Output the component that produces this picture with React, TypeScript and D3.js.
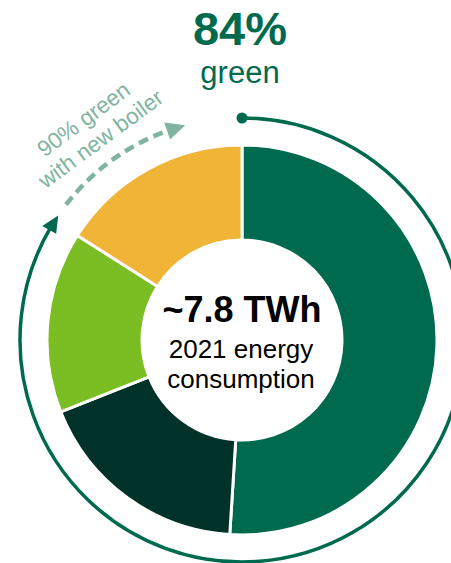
import React from "react";
import * as d3 from "d3";

// ---- Data ----
const categories = ["Segment A", "Segment B", "Segment C", "Segment D"];
const shares = [51, 18, 15, 16];
const sliceColors = ["#006A4E", "#00322A", "#7ABE23", "#F0B437"];
const greenShare = 84;
const targetShare = 90;
const headline = "84%";
const headlineSub = "green";
const centerTitle = "~7.8 TWh";
const centerLines = ["2021 energy", "consumption"];
const noteLines = ["90% green", "with new boiler"];

const W = 451;
const H = 563;
const cx = 242;
const cy = 340;
const R = 195;
const r0 = 100;
const ringR = 222;
const FONT = "'Liberation Sans', Arial, Helvetica, sans-serif";
const DARK = "#006A4E";
const TEAL = "#80B4A1";

const pt = (a: number, r: number): [number, number] => [cx + r * Math.sin(a), cy - r * Math.cos(a)];

function arcPath(a0: number, a1: number, r: number) {
  const p = d3.path();
  p.arc(cx, cy, r, a0 - Math.PI / 2, a1 - Math.PI / 2, false);
  return p.toString();
}

function arrowHead(tipA: number, len: number, halfW: number) {
  const baseA = tipA - len / ringR;
  const t = pt(tipA, ringR);
  const b1 = pt(baseA, ringR + halfW);
  const b2 = pt(baseA, ringR - halfW);
  return { d: `M${t[0]},${t[1]}L${b1[0]},${b1[1]}L${b2[0]},${b2[1]}Z`, baseA };
}

export default function App() {
  const pie = d3.pie<number>().sort(null).value((d) => d)(shares);
  const arc = d3.arc<d3.PieArcDatum<number>>().innerRadius(r0).outerRadius(R);

  const scale = d3.scaleLinear().domain([0, 100]).range([0, 2 * Math.PI]);
  const ringTip = scale(greenShare) + 0.03;
  const ringHead = arrowHead(ringTip, 17, 8);
  const dashStart = scale(greenShare) + 0.09;
  const dashTip = scale(targetShare) + 0.37;
  const dashHead = arrowHead(dashTip, 19, 9);
  const dot = pt(0, ringR);
  const noteA = -36.5;

  return (
    <svg width={W} height={H} style={{ position: "absolute", left: 0, top: 0, background: "#fff" }} fontFamily={FONT}>
      <g transform={`translate(${cx},${cy})`}>
        {pie.map((d, i) => (
          <path key={categories[i]} d={arc(d) as string} fill={sliceColors[i]} stroke="#fff" strokeWidth={3} />
        ))}
      </g>
      {/* ring */}
      <path d={arcPath(0, ringHead.baseA + 0.01, ringR)} fill="none" stroke={DARK} strokeWidth={3.5} />
      <path d={ringHead.d} fill={DARK} />
      <circle cx={dot[0]} cy={dot[1]} r={5.5} fill={DARK} />
      {/* dashed target arc */}
      <path d={arcPath(dashStart, dashHead.baseA, ringR)} fill="none" stroke={TEAL} strokeWidth={4.5} strokeDasharray="10 6" />
      <path d={dashHead.d} fill={TEAL} />
      <g transform={`translate(${cx},${cy}) rotate(${noteA})`} fill={TEAL} fontSize={22.5} textAnchor="middle">
        <text x={4} y={-264}>{noteLines[0]}</text>
        <text x={6} y={-238}>{noteLines[1]}</text>
      </g>
      {/* headline */}
      <text x={240} y={45} textAnchor="middle" fontSize={47} fontWeight="bold" fill={DARK}>{headline}</text>
      <text x={240} y={83} textAnchor="middle" fontSize={31} fill={DARK}>{headlineSub}</text>
      {/* center */}
      <text x={cx} y={322} textAnchor="middle" fontSize={36} fontWeight="bold" fill="#000">{centerTitle}</text>
      <text x={241} y={358} textAnchor="middle" fontSize={26} fill="#000">{centerLines[0]}</text>
      <text x={241} y={388} textAnchor="middle" fontSize={26} fill="#000">{centerLines[1]}</text>
    </svg>
  );
}
